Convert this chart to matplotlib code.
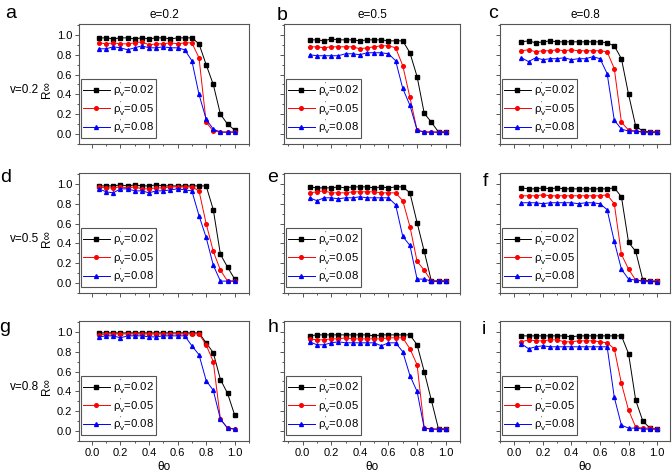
import matplotlib
matplotlib.use("Agg")
import matplotlib.pyplot as plt  # noqa: E402
from matplotlib.ticker import MultipleLocator, FormatStrFormatter  # noqa: E402

plt.rcParams["font.family"] = ["Liberation Sans", "DejaVu Sans"]
plt.rcParams["mathtext.fontset"] = "custom"
plt.rcParams["mathtext.rm"] = "Liberation Sans"
plt.rcParams["mathtext.it"] = "Liberation Sans:italic"
plt.rcParams["mathtext.default"] = "regular"

# theta_o sampled 0.05 .. 1.00
THETA = [0.05, 0.10, 0.15, 0.20, 0.25, 0.30, 0.35, 0.40, 0.45, 0.50,
         0.55, 0.60, 0.65, 0.70, 0.75, 0.80, 0.85, 0.90, 0.95, 1.00]

RHO_LABELS = ["0.02", "0.05", "0.08"]
E_TITLES = ["e=0.2", "e=0.5", "e=0.8"]
V_LABELS = ["v=0.2", "v=0.5", "v=0.8"]
PANEL_LETTERS = ["a", "b", "c", "d", "e", "f", "g", "h", "i"]

# row v=0.2
a_002 = [0.97, 0.97, 0.96, 0.97, 0.97, 0.96, 0.97, 0.96, 0.97, 0.97,
         0.96, 0.97, 0.97, 0.97, 0.91, 0.70, 0.50, 0.20, 0.10, 0.04]
a_005 = [0.92, 0.91, 0.92, 0.91, 0.91, 0.92, 0.93, 0.90, 0.91, 0.91,
         0.92, 0.91, 0.92, 0.92, 0.77, 0.12, 0.03, 0.02, 0.02, 0.02]
a_008 = [0.86, 0.86, 0.88, 0.87, 0.85, 0.87, 0.89, 0.87, 0.87, 0.88,
         0.87, 0.87, 0.85, 0.74, 0.40, 0.15, 0.05, 0.02, 0.02, 0.02]

b_002 = [0.95, 0.95, 0.94, 0.96, 0.95, 0.95, 0.95, 0.94, 0.95, 0.95,
         0.95, 0.94, 0.94, 0.94, 0.82, 0.58, 0.21, 0.12, 0.02, 0.02]
b_005 = [0.88, 0.88, 0.87, 0.88, 0.88, 0.88, 0.88, 0.86, 0.87, 0.88,
         0.89, 0.89, 0.87, 0.69, 0.37, 0.04, 0.02, 0.02, 0.02, 0.02]
b_008 = [0.80, 0.79, 0.79, 0.79, 0.79, 0.81, 0.81, 0.80, 0.82, 0.82,
         0.82, 0.81, 0.74, 0.46, 0.29, 0.04, 0.02, 0.02, 0.02, 0.02]

c_002 = [0.93, 0.94, 0.92, 0.93, 0.94, 0.93, 0.93, 0.93, 0.93, 0.93,
         0.93, 0.93, 0.92, 0.89, 0.76, 0.40, 0.08, 0.03, 0.02, 0.02]
c_005 = [0.84, 0.85, 0.83, 0.84, 0.84, 0.85, 0.84, 0.85, 0.84, 0.84,
         0.84, 0.84, 0.83, 0.66, 0.12, 0.04, 0.03, 0.02, 0.02, 0.02]
c_008 = [0.77, 0.73, 0.77, 0.75, 0.76, 0.76, 0.77, 0.75, 0.76, 0.76,
         0.78, 0.76, 0.61, 0.14, 0.05, 0.03, 0.03, 0.02, 0.02, 0.02]

# row v=0.5
d_002 = [0.98, 0.98, 0.98, 0.99, 0.98, 0.99, 0.98, 0.98, 0.99, 0.98,
         0.98, 0.98, 0.98, 0.98, 0.98, 0.98, 0.74, 0.29, 0.16, 0.04]
d_005 = [0.97, 0.96, 0.96, 0.97, 0.96, 0.97, 0.95, 0.95, 0.96, 0.96,
         0.97, 0.97, 0.97, 0.97, 0.93, 0.60, 0.32, 0.13, 0.02, 0.02]
d_008 = [0.95, 0.92, 0.91, 0.95, 0.95, 0.93, 0.93, 0.91, 0.93, 0.93,
         0.94, 0.95, 0.94, 0.93, 0.68, 0.46, 0.18, 0.02, 0.02, 0.02]

e_002 = [0.97, 0.96, 0.96, 0.96, 0.97, 0.96, 0.97, 0.97, 0.97, 0.96,
         0.97, 0.96, 0.97, 0.97, 0.91, 0.61, 0.32, 0.02, 0.02, 0.02]
e_005 = [0.91, 0.92, 0.93, 0.91, 0.91, 0.91, 0.92, 0.92, 0.92, 0.92,
         0.91, 0.91, 0.91, 0.83, 0.57, 0.22, 0.13, 0.02, 0.02, 0.02]
e_008 = [0.86, 0.83, 0.86, 0.86, 0.85, 0.86, 0.86, 0.87, 0.86, 0.86,
         0.86, 0.86, 0.79, 0.47, 0.38, 0.04, 0.04, 0.02, 0.02, 0.02]

f_002 = [0.96, 0.95, 0.95, 0.96, 0.95, 0.96, 0.95, 0.95, 0.95, 0.95,
         0.95, 0.95, 0.95, 0.96, 0.87, 0.41, 0.32, 0.03, 0.02, 0.02]
f_005 = [0.88, 0.88, 0.88, 0.89, 0.88, 0.88, 0.88, 0.88, 0.88, 0.88,
         0.88, 0.88, 0.89, 0.80, 0.29, 0.14, 0.03, 0.02, 0.02, 0.02]
f_008 = [0.81, 0.81, 0.81, 0.80, 0.81, 0.81, 0.81, 0.81, 0.80, 0.81,
         0.81, 0.80, 0.74, 0.42, 0.14, 0.04, 0.03, 0.02, 0.02, 0.01]

# row v=0.8
g_002 = [0.99, 0.99, 0.99, 0.99, 0.99, 0.99, 0.99, 0.99, 0.99, 0.99,
         0.99, 0.99, 0.99, 0.99, 0.99, 0.89, 0.79, 0.52, 0.38, 0.16]
g_005 = [0.97, 0.98, 0.98, 0.98, 0.98, 0.98, 0.98, 0.98, 0.98, 0.98,
         0.98, 0.98, 0.98, 0.98, 0.98, 0.87, 0.70, 0.12, 0.03, 0.02]
g_008 = [0.95, 0.96, 0.96, 0.94, 0.96, 0.96, 0.96, 0.95, 0.95, 0.96,
         0.96, 0.96, 0.96, 0.86, 0.77, 0.51, 0.41, 0.12, 0.03, 0.02]

h_002 = [0.96, 0.97, 0.97, 0.97, 0.97, 0.97, 0.97, 0.97, 0.97, 0.96,
         0.97, 0.97, 0.97, 0.97, 0.97, 0.87, 0.60, 0.31, 0.02, 0.02]
h_005 = [0.93, 0.92, 0.92, 0.93, 0.93, 0.94, 0.93, 0.93, 0.93, 0.93,
         0.93, 0.94, 0.94, 0.94, 0.83, 0.67, 0.03, 0.02, 0.02, 0.02]
h_008 = [0.90, 0.87, 0.87, 0.89, 0.90, 0.89, 0.89, 0.89, 0.89, 0.89,
         0.86, 0.89, 0.89, 0.80, 0.56, 0.40, 0.03, 0.02, 0.02, 0.02]

i_002 = [0.96, 0.96, 0.96, 0.96, 0.96, 0.96, 0.96, 0.95, 0.96, 0.96,
         0.96, 0.96, 0.96, 0.96, 0.96, 0.78, 0.31, 0.10, 0.03, 0.02]
i_005 = [0.90, 0.92, 0.91, 0.91, 0.92, 0.92, 0.90, 0.90, 0.91, 0.91,
         0.91, 0.90, 0.89, 0.83, 0.48, 0.21, 0.04, 0.03, 0.03, 0.02]
i_008 = [0.88, 0.83, 0.85, 0.86, 0.85, 0.85, 0.85, 0.85, 0.85, 0.85,
         0.85, 0.85, 0.85, 0.34, 0.06, 0.03, 0.03, 0.02, 0.02, 0.02]

PANELS = [
    [(a_002, a_005, a_008), (b_002, b_005, b_008), (c_002, c_005, c_008)],
    [(d_002, d_005, d_008), (e_002, e_005, e_008), (f_002, f_005, f_008)],
    [(g_002, g_005, g_008), (h_002, h_005, h_008), (i_002, i_005, i_008)],
]

W, H = 672, 472
COL_LEFT = [79, 284, 500]
COL_RIGHT = [249, 460, 670]
COL_XLIM = [(-0.09, 1.10), (-0.13, 1.10), (-0.10, 1.09)]
ROW_TOP = [24, 173, 321]
ROW_H = 120
LETTER_XY = [(11, 13), (282, 16), (493, 14),
             (6, 177), (273, 178), (485, 181),
             (5, 327), (273, 327), (484, 330)]

STYLES = [("black", "s", 2.4), ("#ff0000", "o", 2.6), ("#0000ff", "^", 2.8)]
SPINE = "#555555"


def _style_axes(ax, row, col):
    ax.set_xlim(*COL_XLIM[col])
    ax.set_ylim(-0.1, 1.11)
    ax.xaxis.set_major_locator(MultipleLocator(0.2))
    ax.xaxis.set_minor_locator(MultipleLocator(0.1))
    ax.yaxis.set_major_locator(MultipleLocator(0.2))
    ax.yaxis.set_minor_locator(MultipleLocator(0.1))
    ax.tick_params(which="both", direction="out", color=SPINE, width=0.7,
                   labelsize=8, pad=2)
    ax.tick_params(which="major", length=3)
    ax.tick_params(which="minor", length=1.6)
    for s in ax.spines.values():
        s.set_color(SPINE)
        s.set_linewidth(0.8)
    ax.xaxis.set_major_formatter(FormatStrFormatter("%.1f"))
    ax.yaxis.set_major_formatter(FormatStrFormatter("%.1f"))
    if col > 0:
        ax.tick_params(axis="y", labelleft=False)
    if row < 2:
        ax.tick_params(axis="x", labelbottom=False)
    else:
        ax.set_xlabel("θo", fontsize=8.5, labelpad=2)


fig = plt.figure(figsize=(W / 100, H / 100), dpi=100)

for row in range(3):
    for col in range(3):
        x0 = COL_LEFT[col] / W
        w = (COL_RIGHT[col] - COL_LEFT[col]) / W
        y0 = 1 - (ROW_TOP[row] + ROW_H) / H
        ax = fig.add_axes([x0, y0, w, ROW_H / H])
        for series, rho, (color, marker, ms) in zip(PANELS[row][col], RHO_LABELS, STYLES):
            ax.plot(THETA, series, color=color, marker=marker, markersize=ms,
                    linewidth=0.7, label=r"$\rho_v^{'}$=" + rho)
        _style_axes(ax, row, col)
        leg = ax.legend(loc="lower left", bbox_to_anchor=(0.012, 0.05),
                        borderaxespad=0, fontsize=8.2, fancybox=False,
                        handlelength=2.3, handletextpad=0.3, labelspacing=0.0,
                        borderpad=0.2, framealpha=1)
        leg.get_frame().set_edgecolor(SPINE)
        leg.get_frame().set_linewidth(0.8)
        if row == 0:
            ax.set_title(E_TITLES[col], fontsize=8.5, pad=4)
        if col == 0:
            yc = 1 - (ROW_TOP[row] + 66) / H
            fig.text(47 / W, yc, "R∞", rotation=90, fontsize=8.5,
                     ha="center", va="center")
            fig.text(25 / W, yc, V_LABELS[row], fontsize=8.5,
                     ha="center", va="center")

for letter, (lx, ly) in zip(PANEL_LETTERS, LETTER_XY):
    fig.text(lx / W, 1 - ly / H, letter, fontsize=14, ha="center", va="center")

fig.savefig("out.png", dpi=100)
plt.close(fig)
